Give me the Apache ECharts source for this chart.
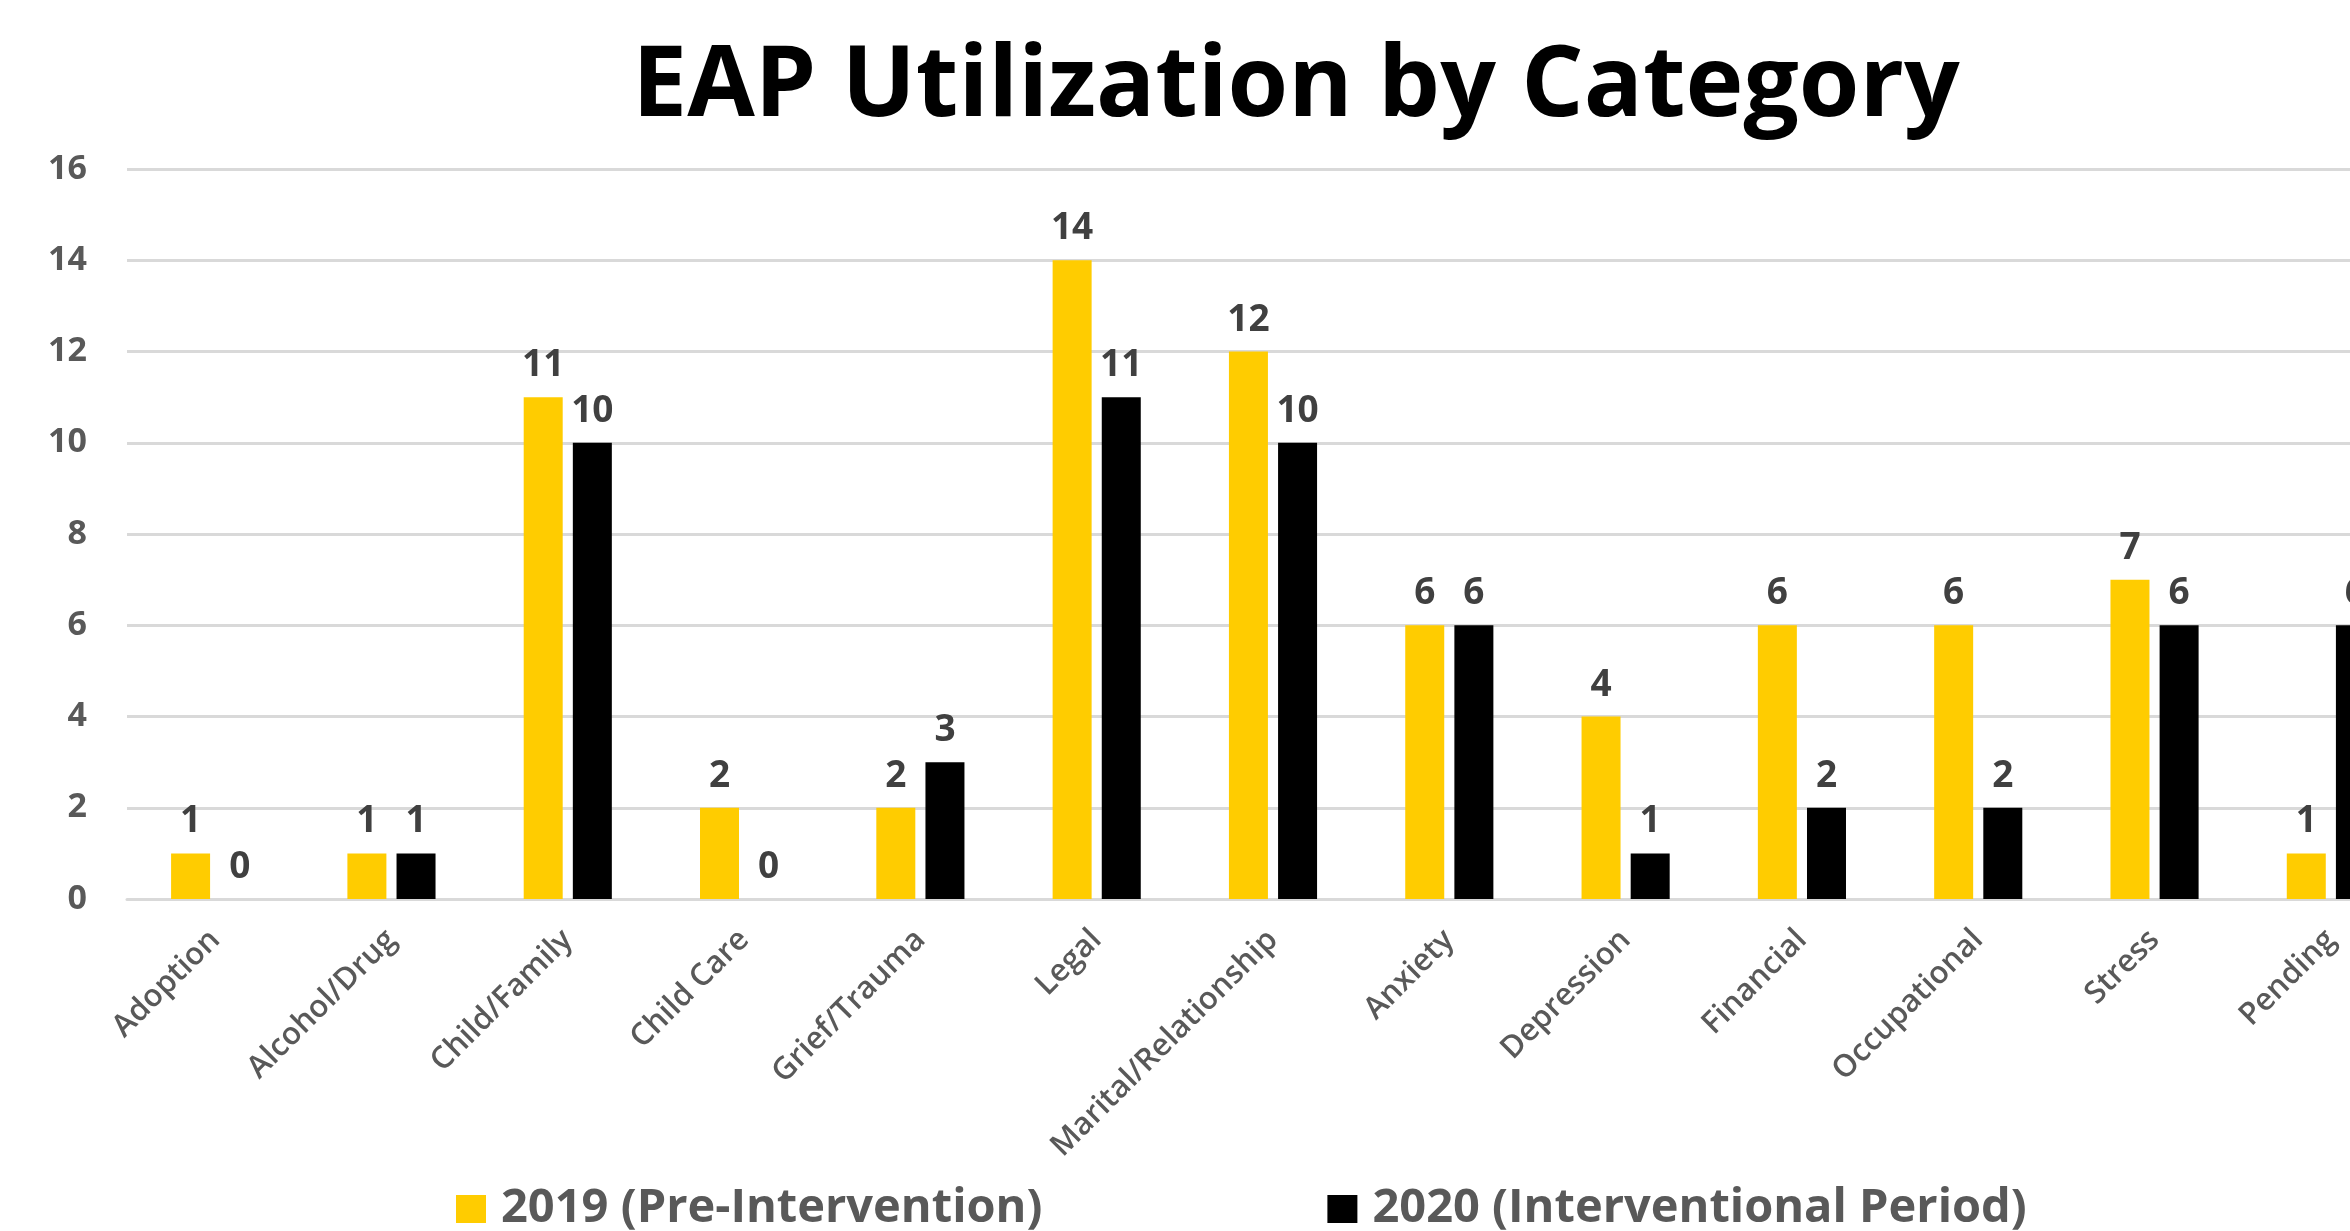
<!DOCTYPE html>
<html>
<head>
<meta charset="utf-8">
<title>EAP Utilization by Category</title>
<script src="https://cdn.jsdelivr.net/npm/echarts@6/dist/echarts.min.js"></script>
<style>
  html, body { margin: 0; padding: 0; background: #fff; }
  #chart { width: 2350px; height: 1231px; }
</style>
</head>
<body>
<div id="chart"></div>
<script>
// categories and values
var categories = ['Adoption', 'Alcohol/Drug', 'Child/Family', 'Child Care', 'Grief/Trauma', 'Legal',
  'Marital/Relationship', 'Anxiety', 'Depression', 'Financial', 'Occupational', 'Stress', 'Pending']
var pre2019 = [1, 1, 11, 2, 2, 14, 12, 6, 4, 6, 6, 7, 1]
var period2020 = [0, 1, 10, 0, 3, 11, 10, 6, 1, 2, 2, 6, 6]
var yTicks = { min: 0, max: 16, interval: 2 }

var font = 'Open Sans'
var chart = echarts.init(document.getElementById('chart'), null, { renderer: 'canvas' })

function barLabel() {
  return {
    show: true,
    position: 'top',
    distance: 13,
    color: '#404040',
    fontFamily: font,
    fontWeight: 'bold',
    fontSize: 37
  }
}

chart.setOption({
  animation: false,
  title: {
    text: 'EAP Utilization by Category',
    left: 1291,
    top: 34,
    textAlign: 'center',
    textStyle: {
      fontFamily: font,
      fontWeight: 'bold',
      fontSize: 98,
      color: '#000'
    }
  },
  legend: {
    data: ['2019 (Pre-Intervention)', '2020 (Interventional Period)'],
    left: 451,
    top: 1178,
    itemWidth: 30,
    itemHeight: 28,
    itemGap: 285,
    icon: 'rect',
    textStyle: {
      fontFamily: font,
      fontWeight: 'bold',
      fontSize: 47,
      lineHeight: 52,
      color: '#595959',
      padding: [0, 0, 0, 10]
    }
  },
  grid: {
    left: 127,
    top: 169,
    width: 2292,
    height: 730,
    containLabel: false,
    outerBoundsMode: 'none'
  },
  xAxis: {
    type: 'category',
    data: categories,
    axisTick: { show: false },
    axisLine: { lineStyle: { color: '#D9D9D9', width: 3 } },
    axisLabel: {
      rotate: 45,
      margin: 36,
      interval: 0,
      color: '#595959',
      fontFamily: font,
      fontWeight: 600,
      fontSize: 31
    }
  },
  yAxis: {
    type: 'value',
    min: yTicks.min,
    max: yTicks.max,
    interval: yTicks.interval,
    axisLine: { show: false },
    axisTick: { show: false },
    splitLine: { lineStyle: { color: '#D9D9D9', width: 3 } },
    axisLabel: {
      margin: 40,
      color: '#595959',
      fontFamily: font,
      fontWeight: 'bold',
      fontSize: 34
    }
  },
  series: [{
    name: '2019 (Pre-Intervention)',
    type: 'bar',
    data: pre2019,
    barWidth: 39,
    barGap: '26%',
    itemStyle: { color: '#FFCC00' },
    label: barLabel()
  }, {
    name: '2020 (Interventional Period)',
    type: 'bar',
    data: period2020,
    barWidth: 39,
    itemStyle: { color: '#000000' },
    label: barLabel()
  }]
})
</script>
</body>
</html>
